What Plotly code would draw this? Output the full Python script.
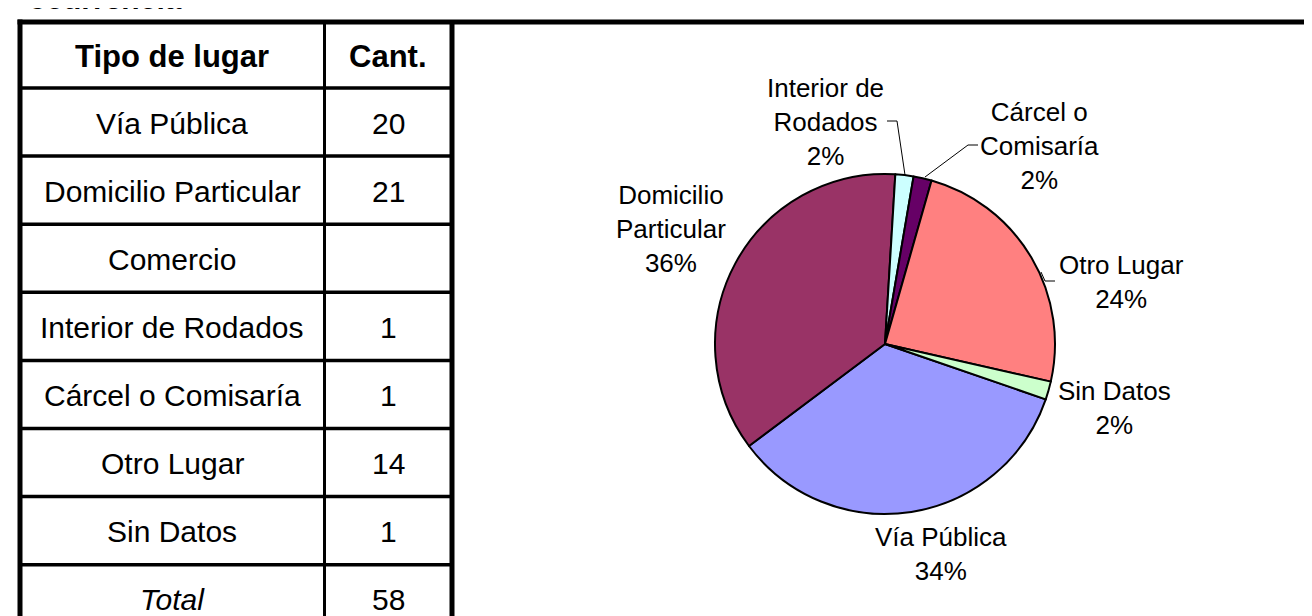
import plotly.graph_objects as go

W, H = 1312, 616

# ---------------- data ----------------
title_text = "ocurrencia"
header = ["Tipo de lugar", "Cant."]
lugares = ["Vía Pública", "Domicilio Particular", "Comercio", "Interior de Rodados",
           "Cárcel o Comisaría", "Otro Lugar", "Sin Datos"]
cantidades = [20, 21, None, 1, 1, 14, 1]
total_label = "Total"
pie_labels = ["Vía Pública", "Domicilio<br>Particular", "Comercio", "Interior de<br>Rodados",
              "Cárcel o<br>Comisaría", "Otro Lugar", "Sin Datos"]
slice_colors = ["#9999FF", "#993366", "#FFFFCC", "#CCFFFF", "#660066", "#FF8080", "#CCFFCC"]

total = sum(v for v in cantidades if v)

# ---------------- helpers (pixel -> paper) ----------------
def px(x):
    return x / W


def py(y):
    return 1 - y / H


FONT = "Liberation Sans, Arial, sans-serif"

shapes = []
annotations = []


def hline(x0, x1, y, w):
    shapes.append(dict(type="line", xref="paper", yref="paper", x0=px(x0), x1=px(x1),
                       y0=py(y), y1=py(y), line=dict(color="black", width=w)))


def vline(x, y0, y1, w):
    shapes.append(dict(type="line", xref="paper", yref="paper", x0=px(x), x1=px(x),
                       y0=py(y0), y1=py(y1), line=dict(color="black", width=w)))


def seg(x0, y0, x1, y1, w=1):
    shapes.append(dict(type="line", xref="paper", yref="paper", x0=px(x0), x1=px(x1),
                       y0=py(y0), y1=py(y1), line=dict(color="black", width=w)))


def text(x, y, s, size, xanchor="center", yanchor="middle"):
    annotations.append(dict(xref="paper", yref="paper", x=px(x), y=py(y), text=s,
                            showarrow=False, xanchor=xanchor, yanchor=yanchor,
                            font=dict(family=FONT, size=size, color="black"), align="center"))


# ---------------- table layout ----------------
left_x, mid_x, right_x = 12, 316.5, 444
top_y = 14
header_bottom = 80
row_h = 68.1
n_rows = len(lugares) + 1  # + total

# outer lines
hline(9.5, W, top_y, 5)
vline(left_x, top_y - 2.5, H + 5, 5)
vline(right_x, top_y, H + 5, 5)
vline(mid_x, top_y, H + 5, 3)

row_tops = [header_bottom + i * row_h for i in range(n_rows)]
for yb in row_tops:
    hline(left_x, right_x, yb, 3.5)

c1 = (left_x + mid_x) / 2
c2 = (mid_x + right_x) / 2
text(c1, (top_y + header_bottom) / 2 + 1, f"<b>{header[0]}</b>", 31)
text(c2, (top_y + header_bottom) / 2 + 1, f"<b>{header[1]}</b>", 31)
for i, (lug, cant) in enumerate(zip(lugares, cantidades)):
    yc = row_tops[i] + row_h / 2 + 1
    text(c1, yc, lug, 30)
    if cant is not None:
        text(c2, yc, str(cant), 30)
yc = row_tops[-1] + row_h / 2 + 1
text(c1, yc, f"<i>{total_label}</i>", 30)
text(c2, yc, str(total), 30)

# cut-off title at the very top (as in the original, only its lower part shows)
text(18, 9, f"<b>{title_text}</b>", 30, xanchor="left", yanchor="bottom")

# ---------------- pie ----------------
cx, cy, r = 877, 336, 170
pv = [(l, v, c) for l, v, c in zip(pie_labels, cantidades, slice_colors) if v]
fig = go.Figure(go.Pie(
    labels=[p[0] for p in pv],
    values=[p[1] for p in pv],
    marker=dict(colors=[p[2] for p in pv], line=dict(color="black", width=2)),
    sort=False, direction="clockwise", rotation=109,
    textinfo="none", hoverinfo="label+percent",
    domain=dict(x=[px(cx - r), px(cx + r)], y=[py(cy + r), py(cy - r)]),
    showlegend=False,
))

# pie labels (label + percent), placed like the original
label_pos = {
    "Vía Pública": (933, 546),
    "Domicilio<br>Particular": (663, 221),
    "Interior de<br>Rodados": (817, 114),
    "Cárcel o<br>Comisaría": (1031, 138),
    "Otro Lugar": (1113, 274),
    "Sin Datos": (1106, 400),
}
for lab, val, _ in pv:
    pct = round(val / total * 100)
    x, y = label_pos[lab]
    text(x, y, f"{lab}<br>{pct}%", 26)

# leader lines
seg(879, 113, 889, 113)
seg(889, 113, 897, 167)
seg(960, 137, 970, 137)
seg(960, 137, 917, 169)
seg(1033, 264, 1037, 273)
seg(1037, 273, 1047, 273)

fig.update_layout(
    width=W, height=H, margin=dict(l=0, r=0, t=0, b=0),
    paper_bgcolor="white", plot_bgcolor="white",
    shapes=shapes, annotations=annotations,
    font=dict(family=FONT),
)
fig.write_html("out.html")
